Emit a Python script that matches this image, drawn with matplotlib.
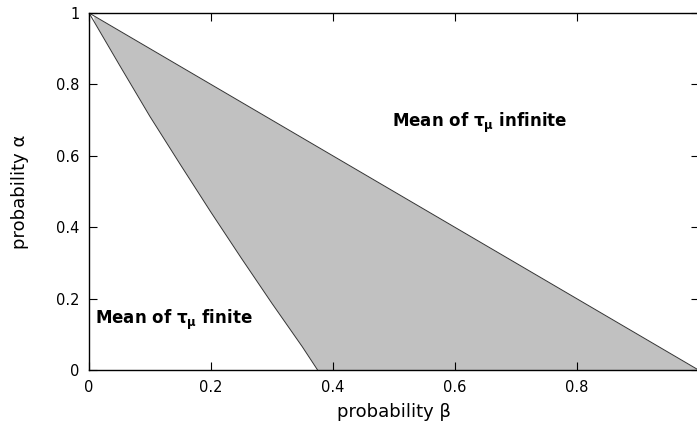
import numpy as np
import matplotlib.pyplot as plt

# boundaries of the shaded region
beta_upper = [0.0, 1.0]
alpha_upper = [1.0, 0.0]

beta_lower = [0.0, 0.05, 0.1, 0.15, 0.2, 0.25, 0.3, 0.35, 0.375]
alpha_lower = [1.0, 0.854, 0.71, 0.575, 0.442, 0.313, 0.187, 0.065, 0.0]

x_ticks = [0, 0.2, 0.4, 0.6, 0.8]
x_ticklabels = ['0', '0.2', '0.4', '0.6', '0.8']
y_ticks = [0, 0.2, 0.4, 0.6, 0.8, 1.0]
y_ticklabels = ['0', '0.2', '0.4', '0.6', '0.8', '1']

plt.rcParams['font.family'] = 'DejaVu Sans'
plt.rcParams['mathtext.fontset'] = 'dejavusans'

fig = plt.figure(figsize=(6.97, 4.32), dpi=100)
ax = fig.add_axes([0.1277, 0.1435, 0.8745, 0.8265])

# fill between the two boundaries, starting just right of beta = 0 as in the original
bx = np.linspace(0.008, 1.0, 400)
up = np.interp(bx, beta_upper, alpha_upper)
lo = np.interp(bx, beta_lower, alpha_lower, right=0.0)
ax.fill_between(bx, lo, up, color='#c1c1c1', linewidth=0)

ax.plot(beta_upper, alpha_upper, color='#333333', lw=0.7)
ax.plot(beta_lower, alpha_lower, color='#333333', lw=0.7)

ax.text(0.01, 0.14, r'Mean of $\mathbf{\tau_{\mu}}$ finite', fontsize=12,
        fontweight='bold', va='center', ha='left')
ax.text(0.497, 0.693, r'Mean of $\mathbf{\tau_{\mu}}$ infinite', fontsize=12,
        fontweight='bold', va='center', ha='left')

ax.set_xlim(0, 1)
ax.set_ylim(0, 1)
ax.set_xticks(x_ticks)
ax.set_xticklabels(x_ticklabels)
ax.set_yticks(y_ticks)
ax.set_yticklabels(y_ticklabels)
ax.tick_params(direction='in', length=6, width=0.8, top=True, right=True,
               labelsize=10.5, pad=7)
for s in ax.spines.values():
    s.set_linewidth(1.0)

ax.set_xlabel('probability β', fontsize=13, labelpad=6)
ax.set_ylabel('probability α', fontsize=13, labelpad=19)

fig.savefig('out.png', dpi=100)
